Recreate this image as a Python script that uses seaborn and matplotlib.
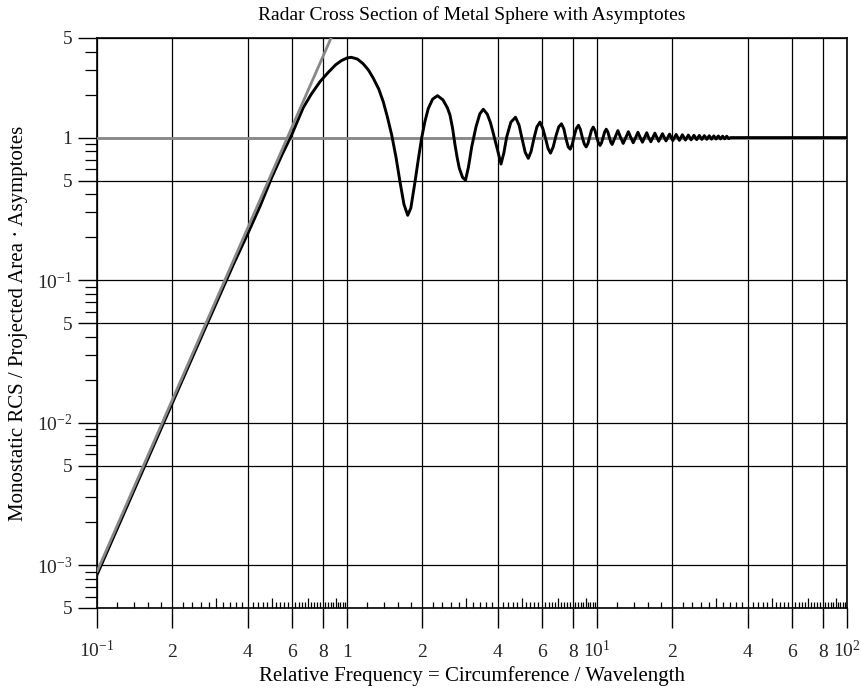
import matplotlib
matplotlib.use("Agg")
import matplotlib.pyplot as plt
from matplotlib.ticker import NullFormatter, NullLocator
import pandas as pd
import seaborn as sns

# Monostatic RCS of a perfectly conducting sphere (exact series), sampled
rel_freq = [
    0.1, 0.15, 0.2, 0.25, 0.3, 0.35, 0.4, 0.45, 0.5, 0.55, 0.6, 0.668, 0.72,
    0.78, 0.84, 0.9, 0.95, 1.0, 1.04, 1.1, 1.16, 1.22, 1.274, 1.34, 1.397,
    1.45, 1.51, 1.57, 1.629, 1.69, 1.749, 1.80, 1.871, 1.93, 1.99, 2.05,
    2.114, 2.2, 2.30, 2.42, 2.52, 2.582, 2.645, 2.704, 2.76, 2.813, 2.90,
    2.979, 3.06, 3.154, 3.281, 3.40, 3.51, 3.64, 3.75, 3.848, 4.0, 4.13,
    4.24, 4.353, 4.52, 4.72, 4.88, 5.01, 5.16, 5.311, 5.45, 5.598, 5.75,
    5.916, 6.07, 6.223, 6.37, 6.516, 6.68, 6.855, 7.03, 7.21, 7.37, 7.52,
    7.67, 7.82, 7.97, 8.12, 8.27, 8.43, 8.58, 8.74, 8.90, 9.05, 9.20, 9.36,
    9.51, 9.66, 9.82, 9.97, 10.13, 10.28, 10.43, 10.59, 10.74, 10.89, 11.04,
    11.20, 11.35, 11.50, 11.81, 12.12, 12.43, 12.73, 13.04, 13.35, 13.66,
    13.96, 14.27, 14.58, 14.89, 15.20, 15.5, 15.81, 16.1, 16.42, 17.04,
    17.65, 18.27, 18.88, 19.50, 20.10, 20.73, 21.35, 21.96, 22.58, 23.19,
    23.80, 24.42, 25.04, 25.65, 26.27, 26.88, 27.50, 28.11, 28.72, 29.34,
    29.95, 30.57, 31.18, 31.80, 32.40, 33.03, 33.65, 34.2, 100.0,
]
rcs_norm = [
    8.55e-4, 4.33e-3, 0.0137, 0.0334, 0.0690, 0.127, 0.210, 0.333, 0.525,
    0.76, 1.04, 1.62, 2.02, 2.47, 2.86, 3.24, 3.47, 3.62, 3.66, 3.56, 3.30,
    2.97, 2.61, 2.19, 1.78, 1.40, 1.04, 0.73, 0.49, 0.34, 0.285, 0.32, 0.49,
    0.71, 1.0, 1.30, 1.60, 1.86, 1.97, 1.84, 1.62, 1.44, 1.16, 0.89, 0.72,
    0.61, 0.525, 0.503, 0.62, 0.862, 1.19, 1.47, 1.58, 1.46, 1.27, 1.07,
    0.82, 0.652, 0.78, 1.01, 1.28, 1.39, 1.22, 0.99, 0.79, 0.715, 0.80,
    0.99, 1.19, 1.285, 1.16, 0.99, 0.84, 0.778, 0.86, 1.03, 1.19, 1.25,
    1.15, 0.98, 0.86, 0.83, 0.90, 1.04, 1.16, 1.22, 1.14, 1.0, 0.90, 0.86,
    0.91, 1.02, 1.13, 1.185, 1.12, 1.01, 0.92, 0.88, 0.92, 1.01, 1.10,
    1.145, 1.10, 1.01, 0.93, 0.895, 1.005, 1.12, 1.0, 0.91, 1.0, 1.10, 1.0,
    0.92, 1.0, 1.09, 1.0, 0.928, 1.0, 1.082, 1.0, 0.935, 1.075, 0.942,
    1.065, 0.948, 1.058, 0.953, 1.052, 0.957, 1.047, 0.961, 1.042, 0.965,
    1.038, 0.968, 1.035, 0.971, 1.032, 0.973, 1.030, 0.975, 1.028, 0.977,
    1.026, 0.979, 1.024, 0.981, 1.022, 0.984, 1.0, 1.0,
]

# Low-frequency (Rayleigh) and high-frequency (optics) asymptotes
rayleigh_freq = [0.1, 1.0]
rayleigh_rcs = [9.0e-4, 9.0]
optics_freq = [0.1, 100.0]
optics_rcs = [1.0, 1.0]

# Axis ticks and labels
x_ticks = [0.1, 0.2, 0.4, 0.6, 0.8, 1, 2, 4, 6, 8, 10, 20, 40, 60, 80, 100]
x_tick_labels = [r"$10^{-1}$", "2", "4", "6", "8", "1", "2", "4", "6", "8",
                 r"$10^{1}$", "2", "4", "6", "8", r"$10^{2}$"]
y_ticks = [5e-4, 1e-3, 5e-3, 1e-2, 5e-2, 0.1, 0.5, 1, 5]
y_tick_labels = ["5", r"$10^{-3}$", "5", r"$10^{-2}$", "5", r"$10^{-1}$",
                 "5", "1", "5"]

decades = [0.1, 1.0, 10.0]
x_minor = [round(m * d, 6) for d in decades
           for m in (1.2, 1.4, 1.6, 1.8, 2.2, 2.4, 2.6, 2.8, 3.2, 3.4, 3.6,
                     3.8, 4.2, 4.4, 4.6, 4.8, 5.2, 5.4, 5.6, 5.8, 6.2, 6.4,
                     6.6, 6.8, 7.2, 7.4, 7.6, 7.8, 8.2, 8.4, 8.6, 8.8, 9.2,
                     9.4, 9.6, 9.8)]
x_mid = [round(m * d, 6) for d in decades for m in (3, 5, 7, 9)]
y_minor = [round(m * d, 12) for d in (1e-4, 1e-3, 1e-2, 1e-1, 1.0)
           for m in (2, 3, 4, 6, 7, 8, 9) if 5e-4 < m * d < 5]

sns.set_theme(style="ticks")
plt.rcParams["font.family"] = ["Liberation Serif", "DejaVu Serif"]
plt.rcParams["mathtext.fontset"] = "custom"
plt.rcParams["mathtext.rm"] = "Liberation Serif"
plt.rcParams["mathtext.it"] = "Liberation Serif:italic"
plt.rcParams["mathtext.bf"] = "Liberation Serif:bold"
plt.rcParams["axes.unicode_minus"] = True

fig = plt.figure(figsize=(8.61, 6.9), dpi=100)
ax = fig.add_axes([97 / 861, 82 / 690, 750 / 861, 570 / 690])
ax.set_xscale("log")
ax.set_yscale("log")

curve = pd.DataFrame({"freq": rel_freq, "rcs": rcs_norm})
low = pd.DataFrame({"freq": rayleigh_freq, "rcs": rayleigh_rcs})
high = pd.DataFrame({"freq": optics_freq, "rcs": optics_rcs})

gray = "#878787"
sns.lineplot(data=high, x="freq", y="rcs", ax=ax, color=gray, lw=2.0,
             estimator=None, sort=False, zorder=3)
sns.lineplot(data=curve, x="freq", y="rcs", ax=ax, color="black", lw=2.1,
             estimator=None, sort=False, zorder=4)
sns.lineplot(data=low, x="freq", y="rcs", ax=ax, color=gray, lw=2.0,
             estimator=None, sort=False, zorder=5)

ax.set_xlim(0.1, 100)
ax.set_ylim(5e-4, 5)

# grid and frame
ax.grid(True, which="major", color="black", lw=0.9)
ax.set_axisbelow(True)
for sp in ax.spines.values():
    sp.set_visible(True)
    sp.set_color("black")
    sp.set_linewidth(1.2)

ax.set_xticks(x_ticks, labels=x_tick_labels)
ax.set_xticks(x_minor, minor=True)
ax.set_yticks(y_ticks, labels=y_tick_labels)
ax.set_yticks(y_minor, minor=True)
ax.xaxis.set_minor_formatter(NullFormatter())
ax.yaxis.set_minor_formatter(NullFormatter())

ax.tick_params(axis="x", which="major", direction="out", length=14.5,
               width=1.0, color="black", labelsize=14, pad=20.5)
ax.tick_params(axis="x", which="minor", direction="in", length=4.3,
               width=0.9, color="black")
ax.tick_params(axis="y", which="major", direction="out", length=13.7,
               width=1.0, color="black", labelsize=14, pad=4)
ax.tick_params(axis="y", which="minor", direction="out", length=8.6,
               width=0.9, color="black")
for t in ax.get_xticklabels():
    t.set_verticalalignment("baseline")

# intermediate ticks at 3, 5, 7, 9 of every decade
sec = ax.secondary_xaxis("bottom")
sec.set_xticks(x_mid)
sec.xaxis.set_minor_locator(NullLocator())
sec.tick_params(axis="x", which="major", direction="in", length=7.5,
                width=0.9, color="black", labelbottom=False)
sec.spines["bottom"].set_visible(False)

ax.set_xlabel("Relative Frequency = Circumference / Wavelength",
              fontsize=15, labelpad=4, color="black")
ax.set_ylabel("Monostatic RCS / Projected Area \u00b7 Asymptotes",
              fontsize=15, color="black")
ax.yaxis.set_label_coords(-0.092, 0.5)
ax.set_title("Radar Cross Section of Metal Sphere with Asymptotes",
             fontsize=14, pad=13, color="black")

fig.savefig("out.png", dpi=100, facecolor="white")
